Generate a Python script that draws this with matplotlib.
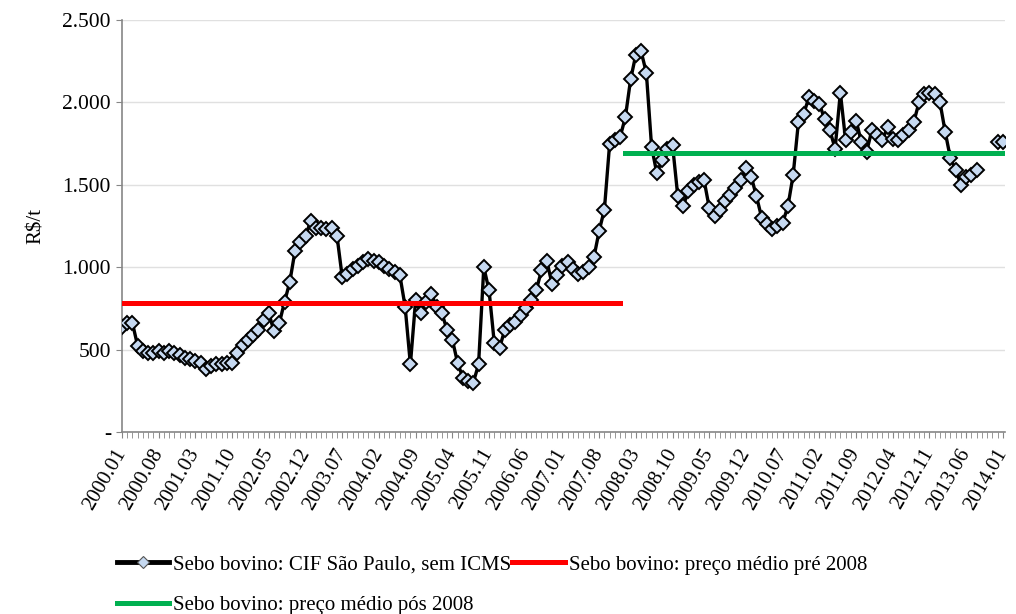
import numpy as np
import matplotlib
matplotlib.use("Agg")
import matplotlib.pyplot as plt
from matplotlib.lines import Line2D

plt.rcParams['font.family'] = ['Liberation Serif', 'DejaVu Serif']

# Monthly periods 2000.01 .. 2014.01
periods = [f"{2000 + m // 12}.{m % 12 + 1:02d}" for m in range(169)]

# Sebo bovino: CIF São Paulo, sem ICMS (R$/t)
price = [
    640, 660, 660, 520, 490, 480, 480, 490, 480, 490, 480, 470,   # 2000
    450, 440, 430, 420, 380, 400, 410, 410, 420, 420, 480, 530,   # 2001
    560, 590, 620, 680, 720, 610, 660, 790, 910, 1100, 1150, 1190,  # 2002
    1280, 1240, 1240, 1230, 1240, 1190, 940, 960, 990, 1010, 1030, 1050,  # 2003
    1040, 1030, 1010, 990, 970, 950, 760, 410, 800, 720, 790, 840,  # 2004
    760, 720, 620, 560, 420, 330, 310, 300, 410, 1000, 860, 540,   # 2005
    510, 620, 650, 670, 710, 750, 800, 860, 980, 1040, 900, 950,   # 2006
    1010, 1030, 990, 960, 970, 1000, 1060, 1220, 1350, 1750, 1770, 1790,  # 2007
    1910, 2140, 2290, 2310, 2180, 1730, 1570, 1650, 1720, 1740, 1430, 1370,  # 2008
    1460, 1500, 1520, 1530, 1360, 1310, 1350, 1400, 1440, 1480, 1530, 1600,  # 2009
    1550, 1430, 1300, 1260, 1230, 1250, 1270, 1370, 1560, 1880, 1930, 2030,  # 2010
    2010, 1990, 1900, 1830, 1720, 2060, 1770, 1820, 1890, 1760, 1700, 1830,  # 2011
    1800, 1770, 1850, 1780, 1770, 1800, 1830, 1880, 2000, 2050, 2060, 2050,  # 2012
    2000, 1820, 1660, 1590, 1500, 1550, 1560, 1590, np.nan, np.nan, np.nan, 1760,  # 2013
    1760,  # 2014.01
]

avg_pre_2008 = 780
avg_pos_2008 = 1695
n_pre = 96  # 2000.01 .. 2007.12

label_cio = "Sebo bovino: CIF São Paulo, sem ICMS"
label_pre = "Sebo bovino: preço médio pré 2008"
label_pos = "Sebo bovino: preço médio pós 2008"

fig = plt.figure(figsize=(10.16, 6.14), dpi=100)
ax = fig.add_axes([122 / 1016, 1 - 432 / 614, (1005 - 122) / 1016, (432 - 20) / 614])

x = np.arange(len(periods))
ax.plot(x, price, color='black', lw=2.4, marker='D', ms=7.6,
        mfc='#c6d9f1', mec='black', mew=1.4, zorder=3)
ax.plot(x[:n_pre], [avg_pre_2008] * n_pre, color='#ff0000', lw=3.6, zorder=4)
ax.plot(x[n_pre:], [avg_pos_2008] * (len(x) - n_pre), color='#00b050', lw=3.6, zorder=4)

ax.set_xlim(0, 168.4)
ax.set_ylim(0, 2500)
yt = [0, 500, 1000, 1500, 2000, 2500]
ax.set_yticks(yt)
ax.set_yticklabels(['-' if v == 0 else f"{v:,}".replace(',', '.') for v in yt], fontsize=15.5)
ax.yaxis.grid(True, color='#e0e0e0', lw=1)
ax.set_axisbelow(True)

ax.set_xticks(x[::7])
ax.set_xticklabels(periods[::7], rotation=60, ha='right', va='center',
                   rotation_mode='anchor', fontsize=15)
ax.set_xticks(x, minor=True)
ax.tick_params(axis='x', which='both', length=4, color='#868686', pad=9)
ax.tick_params(axis='y', length=4, color='#868686', pad=4)

for s in ['top', 'right']:
    ax.spines[s].set_visible(False)
for s in ['left', 'bottom']:
    ax.spines[s].set_color('#868686')
    ax.spines[s].set_linewidth(1.2)

ax.set_ylabel(r"R\$/t", fontsize=15, labelpad=12)

h1 = Line2D([], [], color='black', lw=3.5, marker='D', ms=6, mfc='#c6d9f1', mec='#555555', mew=0.8)
h2 = Line2D([], [], color='#ff0000', lw=3.6)
h3 = Line2D([], [], color='#00b050', lw=3.6)
fig.legend([h1, h3, h2], [label_cio, label_pos, label_pre], ncol=2,
           loc='upper left', bbox_to_anchor=(117 / 1016, 1 - 555 / 614),
           frameon=False, fontsize=15, handlelength=2.5, handletextpad=0.2,
           columnspacing=0.05, labelspacing=1.0, borderaxespad=0, borderpad=0)

fig.savefig("out.png", dpi=100)
